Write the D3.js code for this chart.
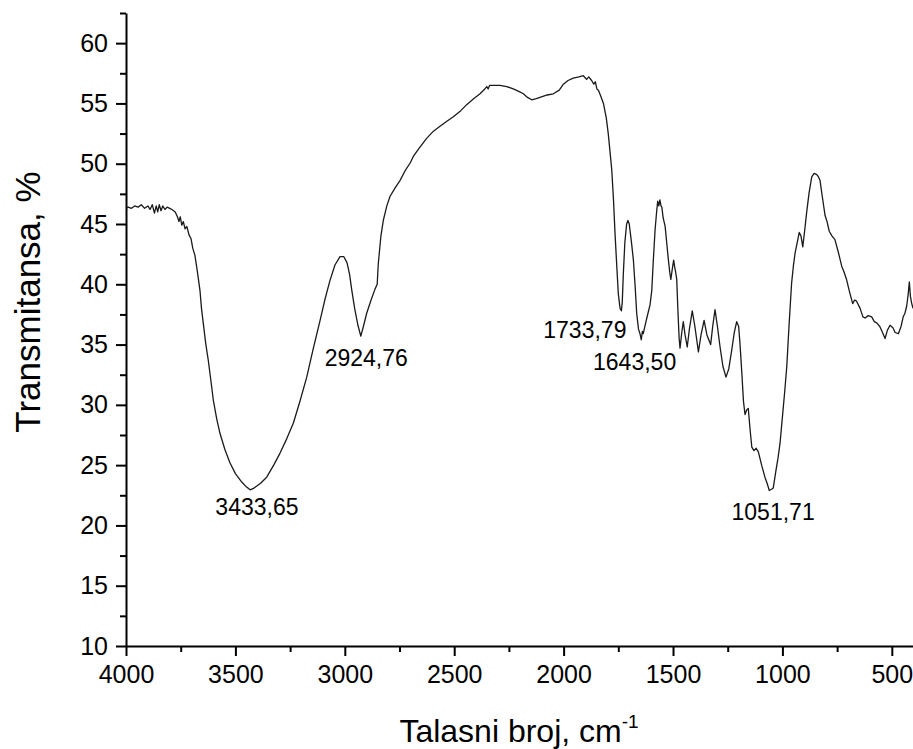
<!DOCTYPE html>
<html>
<meta charset="utf-8">
<style>
body { margin: 0; background: #fff; }
svg { display: block; }
text { font-family: "Liberation Sans", Arial, sans-serif; fill: #000; }
.axis path, .axis line { stroke: #000; stroke-width: 2; }
.spectrum { fill: none; stroke: #1a1a1a; stroke-width: 1.3; stroke-linejoin: round; }
</style>
<body>
<svg width="913" height="749"></svg>
<script src="https://cdn.jsdelivr.net/npm/d3@7"></script>
<script>

// wavenumber (cm-1) and transmittance (%)
var wavenumber = [4000,3990,3975,3960,3945,3930,3915,3900,3890,3880,3870,3862,3855,3848,3840,3832,3822,3812,3800,3790,
  3775,3765,3758,3752,3745,3738,3730,3722,3712,3703,3695,3685,3675,3662,3655,3647,3635,3624,3612,3601,
  3585,3570,3548,3525,3500,3471,3450,3433,3415,3385,3357,3325,3296,3265,3235,3205,3174,3145,3113,3090,
  3068,3045,3022,3005,2990,2978,2968,2955,2940,2927,2915,2900,2880,2862,2852,2847,2835,2824,2808,2793,
  2770,2748,2725,2700,2687,2660,2626,2595,2565,2535,2504,2470,2443,2410,2382,2360,2351,2345,2338,2310,
  2291,2260,2230,2205,2184,2165,2146,2125,2108,2075,2047,2020,2001,1980,1956,1930,1910,1895,1885,1872,
  1862,1855,1848,1841,1830,1818,1805,1796,1788,1780,1772,1765,1757,1750,1742,1736,1732,1727,1720,1712,
  1706,1700,1690,1681,1673,1666,1658,1651,1645,1640,1636,1625,1613,1605,1597,1590,1582,1575,1570,1565,
  1560,1555,1551,1545,1536,1528,1521,1515,1510,1503,1497,1493,1488,1483,1478,1472,1468,1460,1453,1445,
  1435,1425,1412,1400,1384,1372,1358,1345,1328,1318,1308,1297,1285,1272,1258,1245,1232,1220,1209,1200,
  1194,1185,1178,1171,1163,1156,1148,1140,1130,1120,1110,1095,1080,1070,1060,1050,1042,1030,1020,1011,
  1000,990,980,970,958,950,942,932,923,915,907,898,889,878,866,855,843,835,828,818,
  805,796,786,773,760,745,729,718,707,695,679,670,661,645,632,622,608,592,580,569,
  555,545,531,520,508,495,485,470,458,448,440,432,425,420,415,409,403];

var transmittance = [46.3,46.4,46.3,46.5,46.4,46.6,46.3,46.5,46.2,46.6,45.9,46.5,46.0,46.6,46.1,46.5,46.2,46.4,46.3,46.2,
  46.0,45.6,45.2,45.6,44.9,45.2,44.6,44.8,44.1,43.8,43.0,42.4,41.2,39.5,38.0,36.8,35.0,33.7,32.0,30.4,
  28.8,27.6,26.3,25.2,24.3,23.6,23.2,22.95,23.1,23.5,24.0,25.0,26.0,27.2,28.5,30.3,32.3,34.6,37.0,38.8,
  40.3,41.6,42.3,42.3,41.8,40.8,39.5,38.0,36.6,35.7,36.5,37.6,38.7,39.6,40.0,41.7,44.0,45.3,46.5,47.3,
  48.0,48.6,49.4,50.1,50.6,51.3,52.1,52.7,53.1,53.5,53.9,54.4,54.9,55.4,55.8,56.2,56.4,56.2,56.5,56.5,
  56.5,56.4,56.2,56.0,55.8,55.5,55.3,55.4,55.5,55.7,55.8,56.1,56.6,56.9,57.1,57.2,57.3,57.0,57.2,56.9,
  56.6,56.8,56.2,56.1,55.6,55.0,53.8,52.5,51.0,49.5,47.0,44.2,41.5,39.2,38.0,37.8,38.5,40.9,43.5,45.0,
  45.3,45.0,43.5,42.0,39.8,37.6,36.3,35.9,35.4,36.1,35.9,36.8,37.7,38.3,39.5,42.0,44.5,46.0,46.9,46.5,
  47.0,46.5,46.4,45.5,44.8,43.3,42.0,41.0,40.4,41.3,42.0,41.5,41.0,40.4,38.0,35.5,34.7,36.0,36.9,35.8,
  34.8,36.3,37.8,36.5,34.4,35.8,37.0,35.8,35.0,36.6,37.9,36.5,34.8,33.2,32.3,33.0,34.5,36.0,36.9,36.5,
  35.1,32.5,30.3,29.2,29.6,29.7,28.0,26.5,26.2,26.4,26.1,25.0,24.0,23.5,22.9,23.0,23.1,24.5,25.6,26.8,
  29.0,31.0,33.2,36.5,40.1,41.5,42.6,43.5,44.3,44.0,43.1,44.5,46.0,47.6,48.9,49.2,49.1,48.9,48.6,47.3,
  45.7,45.2,44.4,44.0,43.7,42.7,41.5,41.0,40.4,39.5,38.4,38.7,38.6,38.0,37.3,37.2,37.4,37.3,36.9,36.8,
  36.5,36.1,35.5,36.2,36.6,36.4,36.0,35.9,36.5,37.3,37.6,38.2,39.2,40.2,39.0,38.4,38.0];

// labelled bands
var peakLabels = ["3433,65", "2924,76", "1733,79", "1643,50", "1051,71"];
var peakWavenumber = [3433.65, 2924.76, 1733.79, 1643.50, 1051.71];
var peakTransmittance = [22.9, 35.7, 38.0, 35.4, 22.9];

var xTicks = [4000, 3500, 3000, 2500, 2000, 1500, 1000, 500];
var yTicks = [10, 15, 20, 25, 30, 35, 40, 45, 50, 55, 60];

var svg = d3.select("svg");

var x = d3.scaleLinear().domain([4000, 400]).range([126, 913.7]);
var y = d3.scaleLinear().domain([10, 62.5]).range([646, 13]);

// minor ticks
var xMinor = d3.range(3750, 400, -500);
var yMinor = d3.range(12.5, 63, 5);

svg.append("g")
    .attr("class", "axis")
    .attr("transform", "translate(0,646)")
    .call(d3.axisBottom(x).tickValues(xMinor).tickSize(6).tickFormat(""))
  .select(".domain").remove();

svg.append("g")
    .attr("class", "axis")
    .attr("transform", "translate(126,0)")
    .call(d3.axisLeft(y).tickValues(yMinor).tickSize(6).tickFormat(""))
  .select(".domain").remove();

var gx = svg.append("g")
    .attr("class", "axis")
    .attr("transform", "translate(0,646)")
    .call(d3.axisBottom(x).tickValues(xTicks).tickSize(10).tickSizeOuter(0).tickPadding(8).tickFormat(d3.format("d")));
gx.selectAll("text").attr("font-size", 25).attr("dy", "0.75em");

var gy = svg.append("g")
    .attr("class", "axis")
    .attr("transform", "translate(126,0)")
    .call(d3.axisLeft(y).tickValues(yTicks).tickSize(10).tickSizeOuter(0).tickPadding(8));
gy.selectAll("text").attr("font-size", 25);

var line = d3.line()
    .x(function(d, i) { return x(wavenumber[i]); })
    .y(function(d) { return y(d); });

svg.append("path")
    .datum(transmittance)
    .attr("class", "spectrum")
    .attr("d", line);

// band labels, offsets in px from the band minimum
var labelDx = [7, 5, -37, -7, 2];
var labelDy = [25, 30, 30, 30, 30];
svg.selectAll(".peak")
    .data(peakLabels)
  .enter().append("text")
    .attr("class", "peak")
    .attr("text-anchor", "middle")
    .attr("font-size", 23)
    .attr("x", function(d, i) { return x(peakWavenumber[i]) + labelDx[i]; })
    .attr("y", function(d, i) { return y(peakTransmittance[i]) + labelDy[i]; })
    .text(function(d) { return d; });

// axis titles
svg.append("text")
    .attr("transform", "translate(40,302) rotate(-90)")
    .attr("text-anchor", "middle")
    .attr("font-size", 35)
    .text("Transmitansa, %");

var xt = svg.append("text")
    .attr("x", 519)
    .attr("y", 742)
    .attr("text-anchor", "middle")
    .attr("font-size", 32);
xt.append("tspan").text("Talasni broj, cm");
xt.append("tspan").attr("dy", -14).attr("font-size", 19).text("-1");

</script>
</body>
</html>
